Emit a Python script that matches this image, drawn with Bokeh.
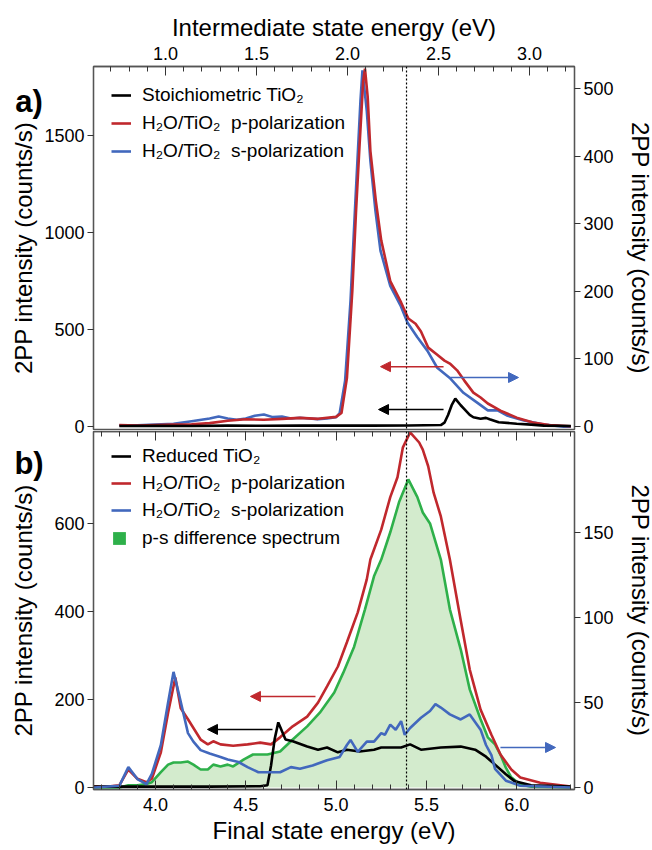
from bokeh.plotting import figure
from bokeh.models import (Range1d, LinearAxis, FixedTicker, SingleIntervalTicker, Span, Arrow,
                          NormalHead, Legend, LegendItem, Label, NumeralTickFormatter,
                          CustomJSTickFormatter)
from bokeh.layouts import column
from bokeh.embed import file_html
from bokeh.resources import INLINE

FONT = "Liberation Sans"
X0, X1 = 3.657, 6.32            # final state energy range (eV)
INTER = (0.604, 3.247)          # intermediate state energy range shown on the top axis (eV)
DOTTED_E = 5.39

RED = "#c0282d"
BLUE = "#4268bd"
GREEN = "#2eb04a"
GREEN_FILL = "#d3ebcd"
AXC = "#555555"

# ---------------- panel a data ----------------
a_blk_E = [3.80, 4.00, 4.20, 4.40, 4.60, 4.80, 5.00, 5.20, 5.40, 5.58, 5.60, 5.62, 5.64, 5.66,
           5.69, 5.705, 5.74, 5.76, 5.80, 5.83, 5.85, 5.90, 6.00, 6.08, 6.15, 6.30]
a_blk_I = [3, 4, 3, 5, 4, 6, 5, 5, 6, 8, 20, 60, 110, 144,
           110, 95, 60, 48, 40, 45, 38, 22, 15, 10, 5, 3]

a_red_E = [3.80, 3.90, 4.00, 4.10, 4.20, 4.30, 4.40, 4.50, 4.60, 4.70, 4.80, 4.90, 5.00, 5.03,
           5.06, 5.09, 5.11, 5.13, 5.15, 5.16, 5.175, 5.19, 5.22, 5.25, 5.30, 5.36, 5.40, 5.44,
           5.47, 5.51, 5.56, 5.60, 5.63, 5.67, 5.71, 5.76, 5.80, 5.84, 5.91, 6.00, 6.09, 6.18, 6.30]
a_red_I = [8, 6, 8, 10, 12, 18, 30, 38, 35, 40, 45, 40, 50, 70,
           250, 700, 1100, 1450, 1780, 1845, 1700, 1420, 1165, 960, 750, 640, 557, 530,
           490, 407, 370, 340, 325, 290, 237, 175, 150, 119, 82, 46, 21, 8, 2]

a_blu_E = [3.80, 3.90, 4.00, 4.10, 4.20, 4.30, 4.35, 4.40, 4.45, 4.50, 4.55, 4.60, 4.65, 4.70,
           4.75, 4.80, 4.85, 4.90, 4.95, 5.00, 5.02, 5.05, 5.08, 5.107, 5.135, 5.146, 5.17, 5.19,
           5.218, 5.246, 5.30, 5.357, 5.395, 5.45, 5.506, 5.56, 5.633, 5.705, 5.783, 5.84, 5.894,
           5.95, 6.04, 6.15, 6.26, 6.30]
a_blu_I = [2, 2, 3, 4, 8, 12, 15, 12, 10, 12, 16, 18, 14, 15,
           12, 13, 12, 11, 12, 14, 20, 68, 186, 334, 482, 527, 467, 393,
           319, 260, 208, 179, 154, 132, 112, 87, 71, 50, 35, 24, 24,
           16, 9, 3, 0, 0]

# ---------------- panel b data ----------------
b_blk_E = [3.66, 4.00, 4.30, 4.58, 4.62, 4.64, 4.66, 4.68, 4.72, 4.76, 4.84, 4.90, 4.95, 5.01,
           5.06, 5.13, 5.21, 5.25, 5.36, 5.41, 5.47, 5.58, 5.69, 5.77, 5.83, 5.88, 5.94, 5.99,
           6.08, 6.30]
b_blk_I = [2, 2, 2, 3, 5, 50, 110, 148, 109, 105, 93, 86, 91, 80,
           86, 82, 86, 91, 91, 98, 86, 91, 93, 86, 70, 52, 30, 14,
           5, 2]

b_red_E = [3.66, 3.75, 3.80, 3.85, 3.90, 3.95, 3.98, 4.03, 4.07, 4.11, 4.14, 4.18, 4.25, 4.29,
           4.32, 4.36, 4.43, 4.51, 4.58, 4.64, 4.69, 4.76, 4.84, 4.90, 4.95, 5.01, 5.06, 5.12,
           5.17, 5.19, 5.25, 5.30, 5.34, 5.37, 5.41, 5.46, 5.48, 5.51, 5.54, 5.58, 5.63, 5.69,
           5.74, 5.80, 5.86, 5.91, 5.97, 6.02, 6.13, 6.30]
b_red_I = [2, 3, 5, 41, 20, 12, 20, 80, 170, 250, 180, 155, 109, 98,
           105, 98, 95, 98, 102, 98, 114, 139, 161, 193, 230, 275, 330, 398,
           473, 518, 586, 660, 705, 773, 807, 784, 768, 730, 670, 616, 518, 380,
           268, 177, 120, 75, 41, 23, 11, 2]

b_blu_E = [3.66, 3.80, 3.85, 3.90, 3.95, 3.98, 4.03, 4.07, 4.10, 4.13, 4.18, 4.21, 4.25, 4.30,
           4.36, 4.40, 4.46, 4.51, 4.57, 4.62, 4.69, 4.75, 4.80, 4.87, 4.95, 5.02, 5.06, 5.08,
           5.12, 5.17, 5.21, 5.25, 5.27, 5.30, 5.33, 5.36, 5.38, 5.41, 5.47, 5.52, 5.55, 5.58,
           5.63, 5.69, 5.74, 5.80, 5.83, 5.86, 5.88, 5.94, 6.02, 6.30]
b_blu_I = [0, 1, 12, 5, 2, 8, 25, 50, 68, 55, 32, 27, 22, 20,
           18, 16.5, 15, 12, 9, 9, 9, 12, 11, 13, 16, 18, 25, 28,
           21, 27, 27, 32, 31, 37, 34, 39, 31, 35, 41, 45, 49, 47,
           43, 40, 43, 34, 25, 19, 11, 4, 1, 0]

b_grn_E = [3.66, 3.80, 3.85, 3.90, 3.95, 3.98, 4.03, 4.07, 4.10, 4.14, 4.18, 4.21, 4.25, 4.29,
           4.32, 4.36, 4.40, 4.43, 4.49, 4.54, 4.62, 4.69, 4.76, 4.84, 4.91, 4.99, 5.04, 5.10,
           5.16, 5.21, 5.25, 5.30, 5.35, 5.40, 5.45, 5.48, 5.52, 5.58, 5.63, 5.69, 5.74, 5.80,
           5.84, 5.88, 5.91, 5.94, 5.97, 6.02, 6.08, 6.30]
b_grn_I = [0, 0, 5, 5, 8, 12, 35, 52, 57, 57, 59, 52, 41, 41,
           52, 48, 52, 48, 64, 75, 75, 82, 109, 139, 170, 216, 261, 320,
           405, 480, 518, 580, 650, 700, 660, 625, 600, 518, 405, 314, 223, 155,
           114, 98, 75, 45, 23, 7, 2, 0]
b_zero = [0] * len(b_grn_E)

# arrows: (x_start, x_end, y) in left-axis units
a_arrows = [(5.595, 5.246, 309, RED), (5.633, 6.010, 253, BLUE), (5.595, 5.235, 88, "black")]
b_arrows = [(4.886, 4.526, 207, RED), (4.648, 4.288, 132, "black"), (5.91, 6.215, 91, BLUE)]

# panel tags, placed in panel a's data units: (text, x, y)
tags = [("a)", 3.300, 1675), ("b)", 3.300, -191)]

A_LEFT = (-15, 1856)
A_RATIO = 3.485
B_LEFT = (-4.5, 809)
B_RATIO = 3.865

TICK_FS = "18px"
TITLE_FS = "24px"


def style_axis(ax):
    ax.axis_line_color = AXC
    ax.axis_line_width = 1.3
    ax.major_tick_line_color = "#333333"
    ax.minor_tick_line_color = "#333333"
    ax.major_label_text_font = FONT
    ax.major_label_text_font_size = TICK_FS
    ax.major_label_text_color = "black"
    ax.axis_label_text_font = FONT
    ax.axis_label_text_font_size = TITLE_FS
    ax.axis_label_text_font_style = "normal"
    ax.axis_label_text_color = "black"


def y_axis(ticks, range_name="default", label="2PP intensity (counts/s)", label_standoff=4):
    ax = LinearAxis(ticker=FixedTicker(ticks=ticks), y_range_name=range_name, axis_label=label)
    style_axis(ax)
    ax.major_tick_out = 6
    ax.major_tick_in = 0
    ax.minor_tick_out = 0
    ax.minor_tick_in = 0
    ax.major_label_standoff = 3
    ax.axis_label_standoff = label_standoff
    return ax


def x_axis(range_name="default", label=None, labels=True, standoff=7, title_standoff=3):
    ax = LinearAxis(ticker=SingleIntervalTicker(interval=0.5, num_minor_ticks=5),
                    x_range_name=range_name, axis_label=label,
                    formatter=NumeralTickFormatter(format="0.0"))
    style_axis(ax)
    ax.major_tick_in = 9
    ax.major_tick_out = 0
    ax.minor_tick_in = 5
    ax.minor_tick_out = 0
    ax.major_label_standoff = standoff
    ax.axis_label_standoff = title_standoff
    if not labels:
        ax.formatter = CustomJSTickFormatter(code="return ''")
        ax.major_label_text_font_size = "1px"
        ax.major_label_standoff = 0
        ax.axis_label_standoff = 0
    return ax


def make_fig(frame_h, yr, top, bottom, transparent=False):
    p = figure(frame_width=481, frame_height=frame_h, x_range=Range1d(X0, X1),
               y_range=Range1d(*yr), output_backend="svg", toolbar_location=None,
               x_axis_location=None, y_axis_location=None,
               min_border_left=93, min_border_right=76, min_border_top=top,
               min_border_bottom=bottom)
    p.grid.visible = False
    p.outline_line_color = AXC
    p.outline_line_width = 1.3
    p.background_fill_color = "white"
    p.border_fill_color = "white"
    if transparent:
        p.border_fill_alpha = 0
    return p


def add_legend(p, items, loc, glyph=20, standoff=11, spacing=5):
    leg = Legend(items=items, location=loc, label_text_font=FONT, label_text_font_size="19px",
                 label_text_color="black",
                 glyph_width=glyph, glyph_height=min(glyph, 23), label_height=23,
                 spacing=spacing, padding=5, label_standoff=standoff,
                 background_fill_alpha=0, border_line_alpha=0, margin=0)
    p.add_layout(leg)


# ================= panel a =================
A_BOTTOM = 78
pa = make_fig(363, A_LEFT, 66, A_BOTTOM)
pa.extra_y_ranges = {"r": Range1d(A_LEFT[0] / A_RATIO, A_LEFT[1] / A_RATIO)}
pa.extra_x_ranges = {"inter": Range1d(*INTER)}

pa.add_layout(y_axis([0, 500, 1000, 1500]), "left")
pa.add_layout(y_axis([0, 100, 200, 300, 400, 500], "r", label_standoff=10), "right")
pa.add_layout(x_axis("inter", "Intermediate state energy (eV)"), "above")

pa.add_layout(Span(location=DOTTED_E, dimension="height", line_dash="2 2",
                   line_color="black", line_width=1.2))

ra_blu = pa.line(a_blu_E, a_blu_I, y_range_name="r", line_color=BLUE, line_width=2.6)
ra_red = pa.line(a_red_E, a_red_I, line_color=RED, line_width=2.6)
ra_blk = pa.line(a_blk_E, a_blk_I, line_color="black", line_width=2.6)

for xs, xe, yv, c in a_arrows:
    pa.add_layout(Arrow(x_start=xs, y_start=yv, x_end=xe, y_end=yv, line_color=c, line_width=1.5,
                        end=NormalHead(size=10, fill_color=c, line_color=c)))

add_legend(pa, [LegendItem(label="Stoichiometric TiO\u2082", renderers=[ra_blk]),
                LegendItem(label="H\u2082O/TiO\u2082  p-polarization", renderers=[ra_red]),
                LegendItem(label="H\u2082O/TiO\u2082  s-polarization", renderers=[ra_blu])],
           (13, 262))

# panel tags live in a side panel (not clipped to the frame), positioned in data units
for txt, tx, ty in tags:
    pa.add_layout(Label(x=tx, y=ty, text=txt, text_font=FONT, text_font_size="31px",
                        text_font_style="bold", text_color="black",
                        text_baseline="middle", text_align="center"),
                  "below")

# ================= panel b =================
pb = make_fig(358, B_LEFT, 0, 58, transparent=True)
pb.margin = (-(429 + A_BOTTOM - 431), 0, 0, 0)
pb.x_range = pa.x_range
pb.extra_y_ranges = {"r": Range1d(B_LEFT[0] / B_RATIO, B_LEFT[1] / B_RATIO)}

pb.add_layout(y_axis([0, 200, 400, 600], label_standoff=14), "left")
pb.add_layout(y_axis([0, 50, 100, 150], "r", label_standoff=10), "right")
pb.add_layout(x_axis("default", "Final state energy (eV)", standoff=8, title_standoff=3), "below")
pb.add_layout(x_axis("default", None, labels=False), "above")

pb.varea(x=b_grn_E, y1=b_zero, y2=b_grn_I, fill_color=GREEN_FILL, fill_alpha=1)
pb.add_layout(Span(location=DOTTED_E, dimension="height", line_dash="2 2",
                   line_color="black", line_width=1.2))
rb_grn = pb.line(b_grn_E, b_grn_I, line_color=GREEN, line_width=2.6)
rb_red = pb.line(b_red_E, b_red_I, line_color=RED, line_width=2.6)
rb_blk = pb.line(b_blk_E, b_blk_I, line_color="black", line_width=2.6)
rb_blu = pb.line(b_blu_E, b_blu_I, y_range_name="r", line_color=BLUE, line_width=2.6)
# zero-area quad: only serves as the legend swatch for the difference spectrum
rb_sq = pb.quad(left=b_grn_E[:1], right=b_grn_E[:1], top=b_zero[:1], bottom=b_zero[:1],
                fill_color=GREEN, line_alpha=0)

for xs, xe, yv, c in b_arrows:
    pb.add_layout(Arrow(x_start=xs, y_start=yv, x_end=xe, y_end=yv, line_color=c, line_width=1.5,
                        end=NormalHead(size=10, fill_color=c, line_color=c)))

add_legend(pb, [LegendItem(label="Reduced TiO\u2082", renderers=[rb_blk]),
                LegendItem(label="H\u2082O/TiO\u2082  p-polarization", renderers=[rb_red]),
                LegendItem(label="H\u2082O/TiO\u2082  s-polarization", renderers=[rb_blu])],
           (13, 263), spacing=4)
add_legend(pb, [LegendItem(label="p-s difference spectrum", renderers=[rb_sq])],
           (13, 235), glyph=16, standoff=15)

layout = column(pa, pb, spacing=0)
open("out.html", "w").write(file_html(layout, INLINE))
